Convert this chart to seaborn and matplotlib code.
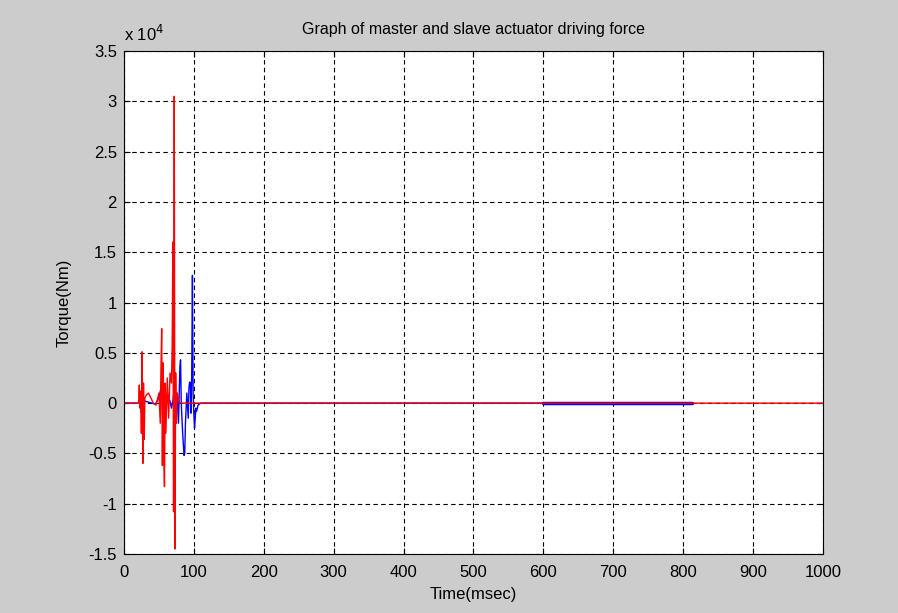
import pandas as pd
import matplotlib.pyplot as plt
import matplotlib.ticker as ticker
import seaborn as sns

# master actuator (red) - time in msec, torque in Nm
red_time = [0, 21, 22, 23, 24, 25, 26, 27, 28, 29, 30, 32, 35, 38, 42, 46, 50, 52, 53,
            54, 55, 56, 57, 58, 59, 60, 62, 64, 66, 68, 69, 70, 71, 72, 73, 74, 75, 76,
            78, 80, 1000]
red_torque = [0, 0, 1800, -500, 1200, -3000, 5100, -6000, 2000, -3600, 500, 800, 1000,
              600, 0, -200, 1000, -2000, 3500, 7400, -6200, 4000, -5000, -8300, 2000,
              -3000, 2500, -1500, 3000, 2000, 5500, 16000, -10800, 30500, -14500, 3000,
              -2000, 1000, 500, 0, 0]

# slave actuator (blue)
blue_time = [0, 20, 22, 24, 26, 27, 28, 30, 35, 40, 45, 50, 53, 54, 55, 56, 57, 58, 60,
             62, 64, 66, 68, 70, 72, 74, 76, 78, 80, 81, 82, 84, 86, 87, 88, 90, 92, 93,
             94, 95, 96, 97, 98, 99, 100, 101, 102, 103, 104, 106, 110, 600]
blue_torque = [0, 0, 200, -500, -1200, 500, 0, 200, 100, 0, -100, 500, 1500, 2000, -500,
               -2500, 1000, 0, -200, 1000, 500, 200, -500, 200, 1500, -500, 1000, -2000,
               3500, 4300, 0, -3000, -5200, -5000, -2000, 1000, -1500, 1500, 2100, 2000,
               -1000, 3000, 12700, 1000, -1000, -2500, -1500, -500, -800, -200, 0, 0]
blue_hold_time = [600, 812]
blue_hold_torque = [0, 0]

red = pd.DataFrame({'Time': red_time, 'Torque': red_torque})
blue = pd.DataFrame({'Time': blue_time, 'Torque': blue_torque})
blue_hold = pd.DataFrame({'Time': blue_hold_time, 'Torque': blue_hold_torque})

sns.set_style('white')
plt.rcParams['font.family'] = ['Liberation Sans', 'DejaVu Sans']
plt.rcParams['text.color'] = 'black'
plt.rcParams['axes.labelcolor'] = 'black'

fig = plt.figure(figsize=(8.98, 6.13), dpi=100, facecolor='#cccccc')
ax = fig.add_axes([0.138, 0.0962, 0.7785, 0.8206])
ax.set_facecolor('white')

sns.lineplot(data=blue, x='Time', y='Torque', ax=ax, color='blue', linewidth=1,
             sort=False, estimator=None)
sns.lineplot(data=blue_hold, x='Time', y='Torque', ax=ax, color='blue', linewidth=2.5,
             sort=False, estimator=None)
sns.lineplot(data=red, x='Time', y='Torque', ax=ax, color='red', linewidth=1,
             sort=False, estimator=None)

ax.set_xlim(0, 1000)
ax.set_ylim(-15000, 35000)
ax.xaxis.set_major_locator(ticker.MultipleLocator(100))
ax.yaxis.set_major_locator(ticker.MultipleLocator(5000))
ax.yaxis.set_major_formatter(ticker.FuncFormatter(lambda v, p: '%g' % (v / 1e4)))
ax.grid(True, color='black', linestyle=(0, (4, 3)), linewidth=0.8)
ax.set_axisbelow(True)
ax.tick_params(direction='in', length=4, width=0.8, colors='black', labelsize=12,
               top=True, right=True, bottom=True, left=True)
ax.tick_params(axis='x', pad=8)
ax.tick_params(axis='y', pad=5)
for s in ax.spines.values():
    s.set_color('black')
    s.set_linewidth(0.8)

ax.text(0.0, 1.014, 'x 10$^4$', transform=ax.transAxes, fontsize=12, ha='left', va='bottom')
ax.set_title('Graph of master and slave actuator driving force', fontsize=11.5, pad=12)
ax.set_xlabel('Time(msec)', fontsize=12, labelpad=5)
ax.set_ylabel('Torque(Nm)', fontsize=12, labelpad=12)

fig.savefig('out.png', dpi=100, facecolor=fig.get_facecolor())
